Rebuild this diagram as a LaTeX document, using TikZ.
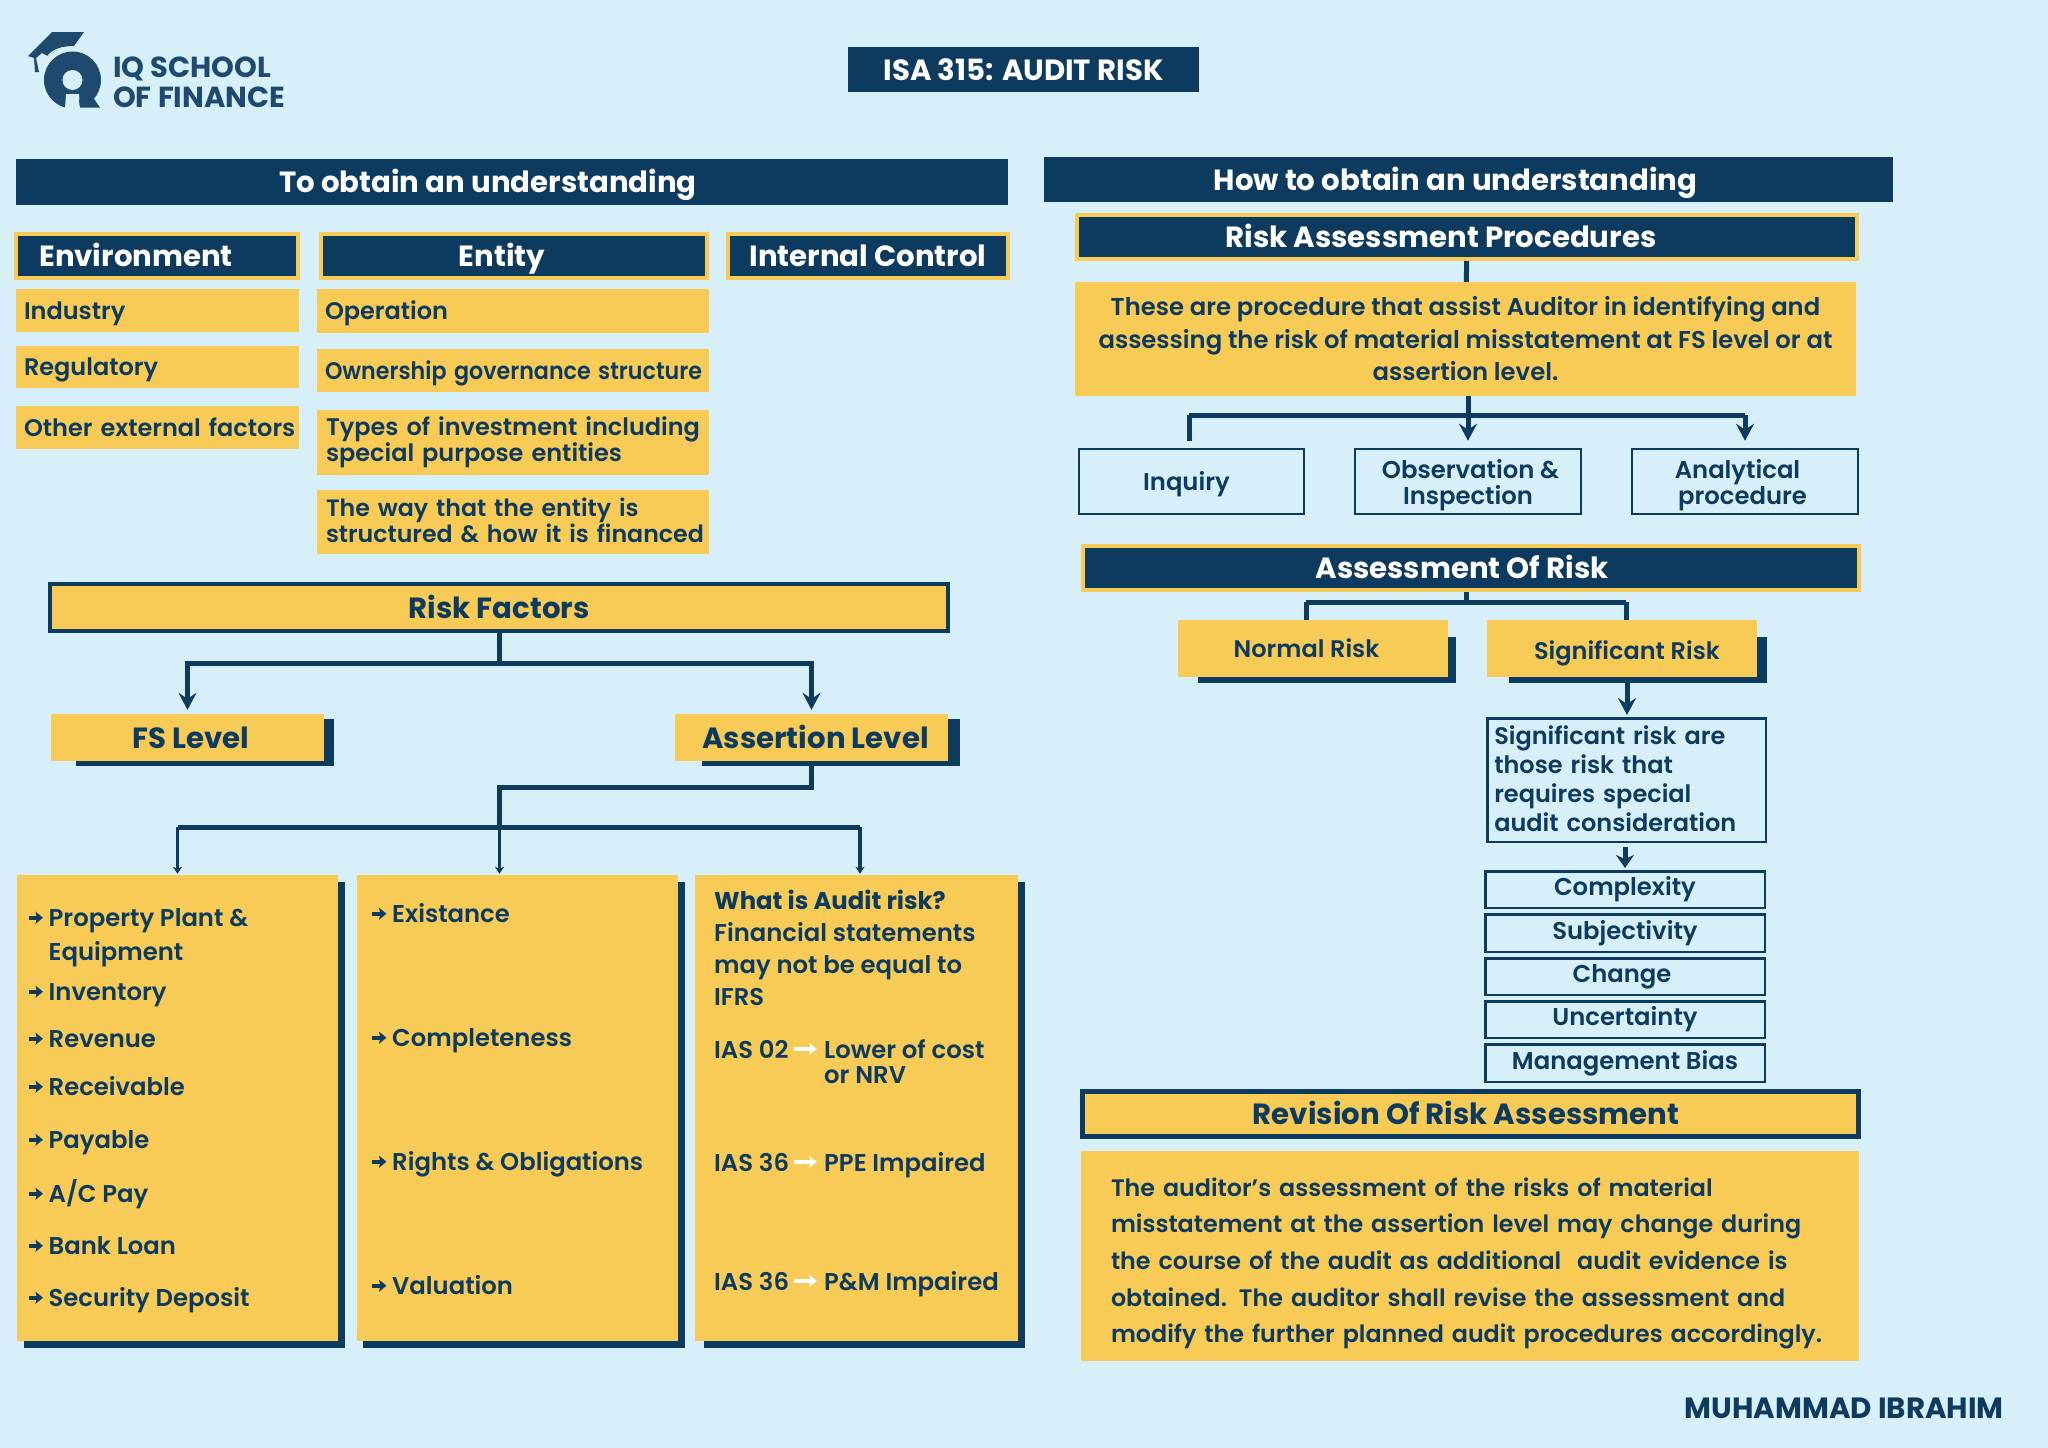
\documentclass[tikz,border=0pt]{standalone}
\usepackage{fontspec}
\setmainfont{Poppins SemiBold}[BoldFont=Poppins Bold]
\usetikzlibrary{arrows.meta}
\definecolor{navy}{HTML}{0D3B5F}
\definecolor{gold}{HTML}{F8CB57}
\definecolor{sky}{HTML}{D6EFF9}
\definecolor{logoblue}{HTML}{1D4A6E}
\lineskiplimit=-20pt
\tikzset{
	fs/.style 2 args={font=\fontsize{#1}{#2}\selectfont},
	fb/.style={font=\bfseries\fontsize{#1}{34}\selectfont},
	oneline/.style={text height=17pt, text depth=0pt},
	barline/.style={text height=21pt, text depth=-2pt},
	navybar/.style={fill=navy, text=white, inner sep=0pt, fb=29.2, barline},
	goldbar/.style={navybar, draw=gold, line width=4pt},
	redbar/.style={fill=gold, text=navy, draw=navy, line width=4.5pt, inner sep=0pt, fb=29.2, barline},
	yellowbox/.style={fill=gold, text=navy, inner sep=0pt, fs={24}{24}},
	levelbox/.style={yellowbox, fb=29.2, barline},
	whitebox/.style={draw=navy, line width=2.5pt, text=navy, inner sep=0pt, fs={24.3}{26}},
	listbox/.style={whitebox, minimum width=279.5pt, text height=17pt, text depth=5pt},
	label/.style={text=navy, inner sep=0pt, fs={24.3}{32}, anchor=base west},
	link/.style={draw=navy, line width=5pt},
	tip/.style={link, -{Stealth[length=17pt,width=18pt,inset=6pt]}, shorten >=4pt},
	smalltip/.style={draw=navy, line width=3.5pt, -{Stealth[length=7pt,width=9pt,inset=2pt]}, shorten >=1pt},
	bullet/.style={draw=navy, line width=4pt, -{Stealth[length=7.5pt,width=12pt,inset=1.5pt]}},
	ifrsarrow/.style={draw=white, line width=4pt, -{Stealth[length=8pt,width=12pt,inset=2pt]}, shorten >=7pt, shorten <=5pt}
}
\begin{document}
\begin{tikzpicture}[x=1pt, y=-1pt]
	\useasboundingbox (0,0) rectangle (2048,1448);
	\fill[sky] (0,0) rectangle (2048,1448);

	% Logo
	\fill[logoblue] (28,56) -- (52,32) -- (84,32) -- (74,46) -- (62,47) -- (48,56) -- (42,53) -- (36,58) -- (39,72) -- (35,72) -- (34,58) -- cycle;
	\fill[logoblue] (72.5,80) circle (28.5);
	\draw[sky, line width=1.5pt] (48,56) .. controls (54,50) and (60,47) .. (74,47);
	\fill[sky] (72.5,80) circle (10);
	\fill[sky] (66,94) -- (79,94) -- (80,109) -- (65,109) -- cycle;
	\fill[logoblue] (79,100) -- (92,96) -- (100,107.5) -- (80,107.5) -- cycle;
	\node[text=logoblue, inner sep=0pt, anchor=base west, font=\bfseries\fontsize{29}{30}\selectfont, align=left] (logotext) at (113,107) {IQ SCHOOL\\OF FINANCE};

	% Title
	\node[navybar, minimum width=351pt, minimum height=45pt] (title) at (1023.5,69.5) {ISA 315: AUDIT RISK};

	% Left side
	\node[navybar, minimum width=992pt, minimum height=46pt] (obtain) at (512,182) {\hspace*{-48pt}To obtain an understanding};
	\node[goldbar, minimum width=282pt, minimum height=44pt] (environment) at (157,256) {\hspace*{-42pt}Environment};
	\node[goldbar, minimum width=386pt, minimum height=44pt] (entity) at (514,256) {\hspace*{-24pt}Entity};
	\node[goldbar, minimum width=280pt, minimum height=44pt] (control) at (868,256) {Internal Control};

	\node[yellowbox, oneline, text width=281pt, minimum height=43pt, inner xsep=1pt, align=left] (industry) at (157.5,310.5) {\hspace*{7pt}Industry};
	\node[yellowbox, oneline, text width=281pt, minimum height=42pt, inner xsep=1pt, align=left] (regulatory) at (157.5,367) {\hspace*{7pt}Regulatory};
	\node[yellowbox, oneline, text width=281pt, minimum height=43pt, inner xsep=1pt, align=left] (external) at (157.5,427.5) {\hspace*{7pt}Other external factors};
	\node[yellowbox, oneline, text width=386pt, minimum height=44pt, inner xsep=3pt, align=left] (operation) at (513,311) {\hspace*{5pt}Operation};
	\node[yellowbox, oneline, text width=386pt, minimum height=43pt, inner xsep=3pt, align=left] (ownership) at (513,370.5) {\hspace*{5pt}\resizebox{377pt}{\height}{Ownership governance structure}};
	\node[yellowbox, text width=386pt, minimum height=65pt, inner xsep=3pt, align=left] (types) at (513,442.5) {\hspace*{6pt}Types of investment including\\\hspace*{6pt}special purpose entities};
	\node[yellowbox, fs={23.7}{26}, text depth=30pt, text width=386pt, minimum height=64pt, inner xsep=3pt, align=left] (structured) at (513,522) {\hspace*{6pt}The way that the entity is\\\hspace*{6pt}structured \& how it is financed};

	% Risk factors
	\node[redbar, minimum width=898pt, minimum height=47pt] (riskfactors) at (499,607.5) {Risk Factors};
	\fill[navy] (76,719) rectangle (334,766);
	\fill[navy] (702,719) rectangle (960,766);
	\node[levelbox, minimum width=273pt, minimum height=47pt] (fslevel) at (187.5,737.5) {\hspace*{6pt}FS Level};
	\node[levelbox, minimum width=273pt, minimum height=47pt] (assertion) at (811.5,737.5) {\hspace*{8pt}Assertion Level};
	\coordinate (rfjoin) at (riskfactors.south |- 0,663);
	\draw[link] (riskfactors) -- (rfjoin);
	\draw[tip] (rfjoin) -| (fslevel);
	\draw[tip] (rfjoin) -| (assertion);

	% Three columns
	\fill[navy] (24,882) rectangle (345,1348);
	\fill[navy] (363,882) rectangle (685,1348);
	\fill[navy] (704,882) rectangle (1025,1348);
	\node[yellowbox, minimum width=321pt, minimum height=466pt] (accounts) at (177.5,1108) {};
	\node[yellowbox, minimum width=321pt, minimum height=466pt] (balances) at (517.5,1108) {};
	\node[yellowbox, minimum width=323pt, minimum height=466pt] (audit) at (856.5,1108) {};
	\coordinate (lvljoin) at (499.5,787);
	\coordinate (colljoin) at (accounts.north |- 0,827);
	\coordinate (colmjoin) at (499.5,827);
	\coordinate (colrjoin) at (860,827);
	\draw[link] (assertion) |- (lvljoin) -- (colmjoin);
	\draw[link] (colljoin) -- (colrjoin);
	\draw[smalltip] (colljoin) -- (accounts.north);
	\draw[smalltip] (colmjoin) -- (balances.north -| colmjoin);
	\draw[smalltip] (colrjoin) -- (audit.north -| colrjoin);

	% Accounts
	\node[label, align=left, fs={24.3}{34}] (ppe) at (48.5,960) {Property Plant \&\\Equipment};
	\node[label] (inventory) at (48.5,1000) {Inventory};
	\node[label] (revenue) at (48.5,1047) {Revenue};
	\node[label] (receivable) at (48.5,1095) {Receivable};
	\node[label] (payable) at (48.5,1148) {Payable};
	\node[label] (acpay) at (48.5,1202) {A/C Pay};
	\node[label] (loan) at (48.5,1254) {Bank Loan};
	\node[label] (deposit) at (48.5,1306) {Security Deposit};

	% Assertions
	\node[label] (existance) at (392,922) {Existance};
	\node[label] (completeness) at (392,1046) {Completeness};
	\node[label] (rights) at (392,1170) {Rights \& Obligations};
	\node[label] (valuation) at (392,1294) {Valuation};

	% Bullet arrows
	\node[label] (ppetop) at (48.5,926) {};
	\foreach \item in {ppetop, inventory, revenue, receivable, payable, acpay, loan, deposit, existance, completeness, rights, valuation}
		\draw[bullet] ([shift={(-20pt,8.3pt)}]\item.base west) -- ++(14.5,0);

	% Audit risk
	\node[label, align=left] (whatis) at (714,1005) {\textbf{What is Audit risk?}\\Financial statements\\may not be equal to\\IFRS};
	\node[label] (ias1) at (714,1058) {IAS 02};
	\node[label, align=left, fs={24.3}{25}] (lower) at (824,1083) {Lower of cost\\or NRV};
	\node[label] (ias2) at (714,1171) {IAS 36};
	\node[label] (ppeimp) at (824,1171) {PPE Impaired};
	\node[label] (ias3) at (714,1290) {IAS 36};
	\node[label] (pmimp) at (824,1290) {P\&M Impaired};
	\draw[ifrsarrow] (ias1.east) -- (lower.west |- ias1.east);
	\draw[ifrsarrow] (ias2.east) -- (ppeimp.west |- ias2.east);
	\draw[ifrsarrow] (ias3.east) -- (pmimp.west |- ias3.east);

	% Right side
	\node[navybar, minimum width=849pt, minimum height=45pt] (how) at (1468.5,179.5) {\hspace*{-26pt}How to obtain an understanding};
	\node[goldbar, minimum width=780pt, minimum height=44pt] (procedures) at (1467,237) {\hspace*{-52pt}Risk Assessment Procedures};
	\node[yellowbox, fs={24.3}{32.5}, minimum width=781pt, minimum height=114pt, align=center] (definition) at (1465.5,339) {These are procedure that assist Auditor in identifying and\\assessing the risk of material misstatement at FS level or at\\assertion level.};
	\draw[link] (procedures) -- (definition);
	\node[whitebox, oneline, minimum width=225pt, minimum height=65pt] (inquiry) at (1191.5,481.5) {\hspace*{-10pt}Inquiry};
	\node[whitebox, text depth=0pt, minimum width=226pt, minimum height=65pt, align=center] (observation) at (1468,481.5) {\hspace*{5pt}Observation \&\\Inspection};
	\node[whitebox, text depth=-2pt, minimum width=226pt, minimum height=65pt, align=center] (analytical) at (1745,481.5) {\hspace*{-15pt}Analytical\\\hspace*{-5pt}procedure};
	\coordinate (procjoin) at (definition.south -| observation.north);
	\coordinate (inqjoin) at (1189,415);
	\coordinate (anajoin) at (1745,415);
	\draw[link] (inqjoin) -- (anajoin);
	\draw[link, shorten >=7pt] (inqjoin) -- (inquiry.north -| inqjoin);
	\draw[tip, shorten >=7pt] (procjoin) -- (observation);
	\draw[tip, shorten >=7pt] (anajoin) -- (analytical);

	% Assessment of risk
	\node[goldbar, minimum width=776pt, minimum height=44pt] (assessment) at (1471,567.5) {\hspace*{-18pt}Assessment Of Risk};
	\fill[navy] (1198,637) rectangle (1456,683);
	\fill[navy] (1509,637) rectangle (1767,683);
	\node[yellowbox, oneline, fs={24}{28}, minimum width=270pt, minimum height=57pt] (normal) at (1313,648.5) {\hspace*{-13pt}Normal Risk};
	\node[yellowbox, oneline, fs={24}{28}, minimum width=270pt, minimum height=57pt] (significant) at (1622,648.5) {\hspace*{10pt}\raisebox{-2pt}{Significant Risk}};
	\coordinate (asmjoin) at (1466,602);
	\coordinate (normjoin) at (1306,602);
	\coordinate (sigjoin) at (1626,602);
	\draw[link] (asmjoin |- assessment.south) -- (asmjoin);
	\draw[link] (normjoin) -- (sigjoin);
	\draw[link] (normjoin) -- (normal.north -| normjoin);
	\draw[link] (sigjoin) -- (significant.north -| sigjoin);

	% Significant risk
	\node[whitebox, fs={24}{29}, text depth=89pt, text width=264.5pt, inner xsep=7pt, minimum height=123.5pt, align=left] (sigdef) at (1626.5,780) {Significant risk are\\those risk that\\requires special\\audit consideration};
	\coordinate (sigtop) at (1627,683);
	\draw[tip, shorten >=2pt] (sigtop) -- (sigdef.north -| sigtop);
	\node[listbox, minimum height=36.5pt] (complexity) at (1625,889.5) {Complexity};
	\node[listbox, minimum height=37.5pt] (subjectivity) at (1625,933) {Subjectivity};
	\node[listbox, minimum height=36.5pt] (change) at (1625,976.5) {\hspace*{-6pt}Change};
	\node[listbox, minimum height=36.5pt] (uncertainty) at (1625,1019.5) {Uncertainty};
	\node[listbox, minimum height=37.5pt] (bias) at (1625,1063) {Management Bias};
	\draw[draw=navy, line width=5pt, -{Stealth[length=13pt,width=18pt,inset=4pt]}, shorten >=2pt, shorten <=4pt] (sigdef.south -| complexity.north) -- (complexity);

	% Revision
	\node[redbar, minimum width=776pt, minimum height=45pt] (revision) at (1470.5,1114) {\hspace*{-9pt}Revision Of Risk Assessment};
	\node[yellowbox, fs={23.8}{36.6}, text depth=138pt, minimum width=778pt, minimum height=210pt, text width=748pt, inner xsep=15pt, align=left] (reviewtext) at (1470,1256) {\hspace*{15pt}The auditor’s assessment of the risks of material\\\hspace*{15pt}misstatement at the assertion level may change during\\\hspace*{15pt}the course of the audit as additional\ \ audit evidence is\\\hspace*{15pt}obtained. The auditor shall revise the assessment and\\\hspace*{15pt}modify the further planned audit procedures accordingly.};

	% Footer
	\node[text=navy, inner sep=0pt, anchor=east, font=\bfseries\fontsize{29.3}{30}\selectfont] (author) at (2004,1408) {MUHAMMAD IBRAHIM};
\end{tikzpicture}
\end{document}
